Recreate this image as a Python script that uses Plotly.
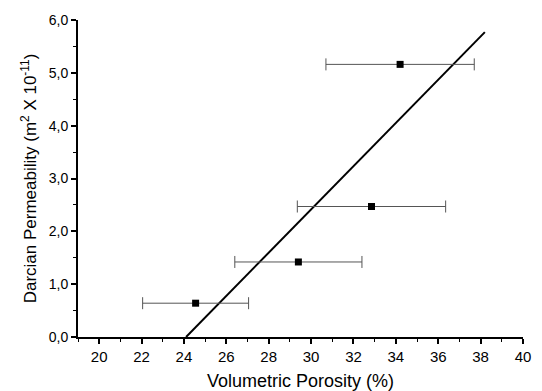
import plotly.graph_objects as go

porosity = [24.55, 29.4, 32.85, 34.2]
porosity_err = [2.5, 3.0, 3.5, 3.5]
permeability = [0.64, 1.42, 2.47, 5.16]

fit_x = [24.1, 38.2]
fit_y = [0.0, 5.77]

x_ticks = [20, 22, 24, 26, 28, 30, 32, 34, 36, 38, 40]
y_ticks = [0, 1, 2, 3, 4, 5, 6]

fig = go.Figure()
fig.add_trace(go.Scatter(
    x=fit_x, y=fit_y, mode="lines",
    line=dict(color="black", width=2), showlegend=False, hoverinfo="skip"))
fig.add_trace(go.Scatter(
    x=porosity, y=permeability, mode="markers",
    marker=dict(symbol="square", size=7, color="black"),
    error_x=dict(type="data", array=porosity_err, visible=True,
                 color="#555555", thickness=1, width=6),
    showlegend=False))

font = "Liberation Sans, Arial, sans-serif"
# page body has an 8px margin, so the figure is sized/offset to compensate
fig.update_layout(
    width=534, height=383,
    margin=dict(l=70, r=19, t=12, b=54, autoexpand=False),
    paper_bgcolor="white", plot_bgcolor="white",
    separators=",.",
    font=dict(family=font, color="black", size=14),
    xaxis=dict(
        range=[19, 40], tickvals=x_ticks, showgrid=False, zeroline=False,
        automargin=False,
        showline=True, linecolor="black", linewidth=2,
        ticks="outside", ticklen=5, tickwidth=1.5, tickcolor="black",
        tickfont=dict(size=15),
        minor=dict(dtick=1, tick0=19, ticks="outside", ticklen=3, tickwidth=1, tickcolor="black"),
        title=dict(text="Volumetric Porosity (%)", font=dict(size=18), standoff=14),
    ),
    yaxis=dict(
        range=[0, 6], tickvals=y_ticks, tickformat=".1f", showgrid=False, zeroline=False,
        automargin=False,
        showline=True, linecolor="black", linewidth=2,
        ticks="outside", ticklen=5, tickwidth=1.5, tickcolor="black",
        tickfont=dict(size=14),
        minor=dict(dtick=0.5, tick0=0, ticks="outside", ticklen=3, tickwidth=1, tickcolor="black"),
        title=dict(text="Darcian Permeability (m<sup>2</sup> X 10<sup>-11</sup>)", font=dict(size=17), standoff=8),
    ),
)
fig.write_html("out.html")
